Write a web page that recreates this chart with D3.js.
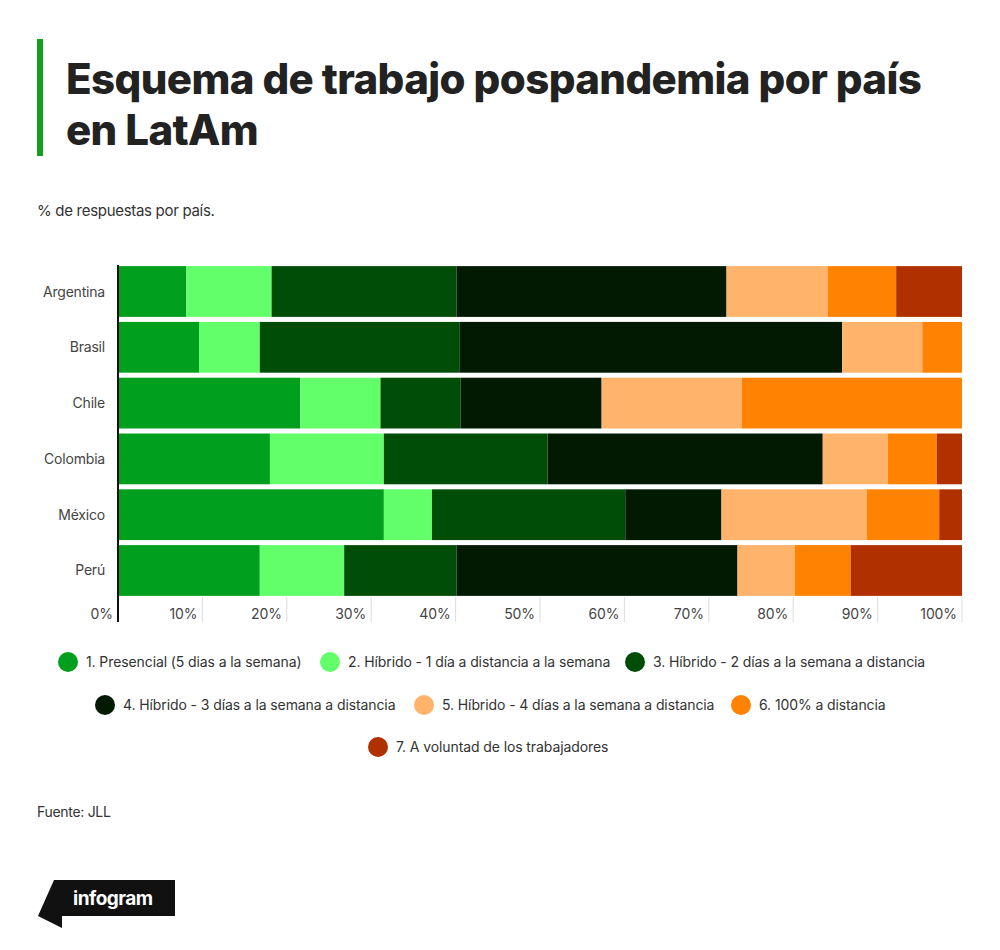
<!DOCTYPE html>
<html><head><meta charset="utf-8">
<script src="https://cdn.jsdelivr.net/npm/d3@7"></script>
<style>body{margin:0;background:#fff;font-family:Inter,"Noto Sans",sans-serif;}</style>
</head><body><svg id="chart" width="1000" height="950"></svg>
<script>
const countries = ["Argentina", "Brasil", "Chile", "Colombia", "México", "Perú"];
const seriesNames = [
  "1. Presencial (5 dias a la semana)",
  "2. Híbrido - 1 día a distancia a la semana",
  "3. Híbrido - 2 días a la semana a distancia",
  "4. Híbrido - 3 días a la semana a distancia",
  "5. Híbrido - 4 días a la semana a distancia",
  "6. 100% a distancia",
  "7. A voluntad de los trabajadores"
];
const colors = ["#00a01e", "#63ff6b", "#004d08", "#021a02", "#ffb36b", "#ff8200", "#b03000"];
const presencial = [8.1, 9.6, 21.6, 18.0, 31.5, 16.8];
const hibrido1 = [10.1, 7.2, 9.5, 13.5, 5.7, 10.0];
const hibrido2 = [21.9, 23.7, 9.5, 19.4, 22.9, 13.3];
const hibrido3 = [32.0, 45.3, 16.7, 32.6, 11.4, 33.3];
const hibrido4 = [12.0, 9.5, 16.6, 7.7, 17.2, 6.8];
const distancia = [8.1, 4.7, 26.1, 5.8, 8.6, 6.6];
const voluntad = [7.8, 0, 0, 3.0, 2.7, 13.2];
const ticks = [0, 10, 20, 30, 40, 50, 60, 70, 80, 90, 100];

const series = [presencial, hibrido1, hibrido2, hibrido3, hibrido4, distancia, voluntad];
const rows = countries.map((c, i) => {
  const r = { country: c };
  series.forEach((s, j) => r["s" + j] = s[i]);
  return r;
});
const keys = series.map((s, j) => "s" + j);
const stacked = d3.stack().keys(keys).offset(d3.stackOffsetExpand)(rows);

const svg = d3.select("#chart");
svg.append("rect").attr("x", 37).attr("y", 39).attr("width", 6).attr("height", 117).attr("fill", "#12a11f");
const title = svg.append("text").attr("font-family", "Inter").attr("font-weight", 800)
  .attr("font-size", 42).attr("fill", "#222").attr("letter-spacing", -0.6);
title.append("tspan").attr("x", 66).attr("y", 94).text("Esquema de trabajo pospandemia por país");
title.append("tspan").attr("x", 66).attr("y", 145).text("en LatAm");
svg.append("text").attr("x", 37).attr("y", 216).attr("font-size", 15).attr("fill", "#333")
  .attr("letter-spacing", -0.3).text("% de respuestas por país.");

const x = d3.scaleLinear().domain([0, 1]).range([118, 962]);
const y = d3.scaleBand().domain(countries).range([265, 597]).paddingInner(0.09).paddingOuter(0.02);

// gridlines under the bars
svg.append("g").selectAll("line").data(ticks.slice(1)).join("line")
  .attr("x1", d => x(d / 100)).attr("x2", d => x(d / 100))
  .attr("y1", 597).attr("y2", 622).attr("stroke", "#ddd");

svg.append("g").selectAll("g").data(stacked).join("g")
  .attr("fill", (d, i) => colors[i])
  .selectAll("rect").data(d => d).join("rect")
  .attr("x", d => x(d[0])).attr("width", d => x(d[1]) - x(d[0]))
  .attr("y", d => y(d.data.country)).attr("height", y.bandwidth());

svg.append("line").attr("x1", 118).attr("x2", 118).attr("y1", 265).attr("y2", 622)
  .attr("stroke", "#111").attr("stroke-width", 2);

svg.append("g").selectAll("text").data(countries).join("text")
  .attr("x", 105).attr("y", d => y(d) + y.bandwidth() / 2 + 5)
  .attr("text-anchor", "end").attr("font-size", 14).attr("fill", "#444").attr("letter-spacing", -0.2)
  .text(d => d);

svg.append("g").selectAll("text").data(ticks).join("text")
  .attr("x", d => x(d / 100) - 5).attr("y", 619)
  .attr("text-anchor", "end").attr("font-size", 14).attr("fill", "#444").attr("letter-spacing", -0.1)
  .text(d => d + "%");

// legend
const legendRows = [[0, 1, 2], [3, 4, 5], [6]];
const legendX = [[68, 330, 635], [105, 424, 741], [378]];
const legendY = [662, 705, 747];
legendRows.forEach((r, ri) => r.forEach((k, ki) => {
  const g = svg.append("g").attr("transform", `translate(${legendX[ri][ki]},${legendY[ri]})`);
  g.append("circle").attr("r", 10).attr("fill", colors[k]);
  g.append("text").attr("x", 18).attr("y", 5).attr("font-size", 14).attr("fill", "#333")
    .attr("letter-spacing", -0.1).text(seriesNames[k]);
}));

svg.append("text").attr("x", 37).attr("y", 817).attr("font-size", 14).attr("fill", "#333")
  .attr("letter-spacing", -0.3).text("Fuente: JLL");

// infogram logo
svg.append("path").attr("d", "M54,880 L175,880 L175,916 L62,916 L62,928 L38,916 Z").attr("fill", "#111");
svg.append("text").attr("x", 73).attr("y", 905).attr("font-size", 19).attr("font-weight", 700)
  .attr("fill", "#fff").attr("letter-spacing", -0.5).text("infogram");
</script></body></html>
